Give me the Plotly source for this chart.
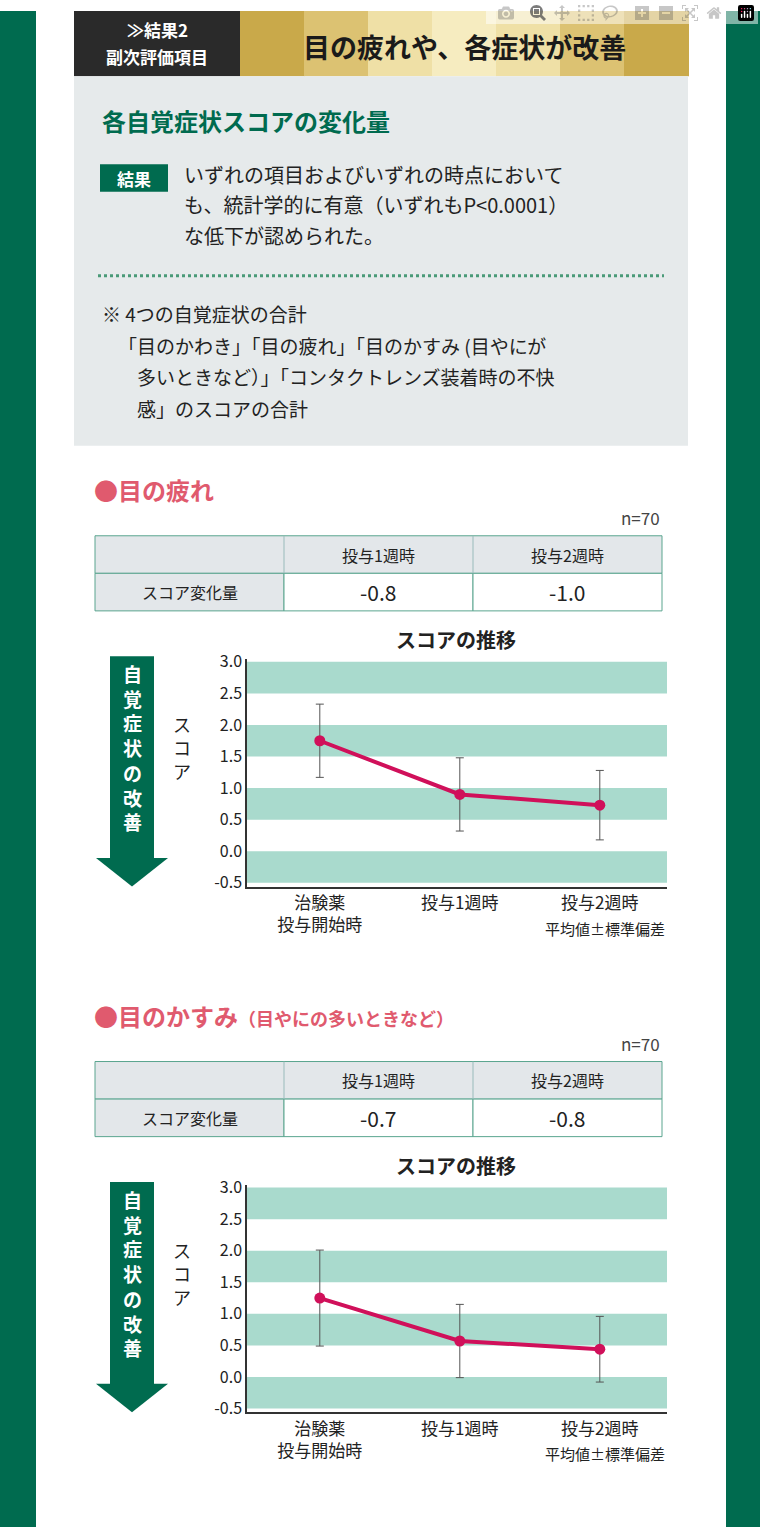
import plotly.graph_objects as go

W, H = 760, 1534
FONT = "Noto Sans CJK JP"
GREEN = "#006b4f"
PINK = "#d0105a"
BAND = "#a9dacd"

x_labels = ["治験薬<br>投与開始時", "投与1週時", "投与2週時"]
tired_mean = [1.75, 0.90, 0.73]
tired_sd = [0.58, 0.58, 0.55]
blur_mean = [1.25, 0.57, 0.44]
blur_sd = [0.76, 0.58, 0.52]
table_head = ["投与1週時", "投与2週時"]
tired_change = ["-0.8", "-1.0"]
blur_change = ["-0.7", "-0.8"]
y_ticks = [3.0, 2.5, 2.0, 1.5, 1.0, 0.5, 0.0, -0.5]

def px(x): return x / W
def py(y): return 1 - y / H

fig = go.Figure()
shapes, ann = [], []

def rect(x0, y0, x1, y1, color, line=None, lw=0):
    shapes.append(dict(type="rect", xref="paper", yref="paper", x0=px(x0), x1=px(x1),
                       y0=py(y1), y1=py(y0), fillcolor=color,
                       line=dict(color=line or color, width=lw), layer="below"))

def text(x, y, s, size, color="#222", xa="center", bold=False, ya="middle"):
    ann.append(dict(xref="paper", yref="paper", x=px(x), y=py(y), text=("<b>%s</b>" % s) if bold else s,
                    showarrow=False, xanchor=xa, yanchor=ya, font=dict(size=size, color=color, family=FONT)))

rect(0, 0, 36, H, GREEN)
rect(726, 0, W, H, GREEN)
rect(74, 0, 240, 66, "#2a2a2a")
golds = ["#c9a94a", "#dcc272", "#efe0a6", "#f6ecc0", "#efe0a6", "#dcc272", "#c9a94a"]
seg = (688 - 240) / len(golds)
for i, c in enumerate(golds):
    rect(240 + i * seg, 0, 240 + (i + 1) * seg + 1, 66, c)
text(157, 19, "≫結果2", 17, "white", bold=True)
text(157, 46, "副次評価項目", 17, "white", bold=True)
text(464, 36, "目の疲れや、各症状が改善", 27, "#1a1a1a", bold=True)
rect(74, 66, 688, 440, "#e6eaeb")
text(100, 111, "各自覚症状スコアの変化量", 24, GREEN, xa="left", bold=True)
rect(100, 155, 168, 183, GREEN)
text(134, 169, "結果", 17, "white", bold=True)
for i, s in enumerate(["いずれの項目およびいずれの時点において",
                       "も、統計学的に有意（いずれもP<0.0001）",
                       "な低下が認められた。"]):
    text(182, 165 + i * 31, s, 20, "#222", xa="left")
shapes.append(dict(type="line", xref="paper", yref="paper", x0=px(98), x1=px(664), y0=py(268), y1=py(268),
                   line=dict(color="#4a9a78", width=3, dash="dot")))
for i, s in enumerate(["※ 4つの自覚症状の合計",
                       "「目のかわき」「目の疲れ」「目のかすみ (目やにが",
                       "　多いときなど）」「コンタクトレンズ装着時の不快",
                       "　感」のスコアの合計"]):
    text(100 if i == 0 else 116, 306 + i * 32, s, 19, "#222", xa="left")

def section(top, title, sub, change, mean, sd, ax):
    text(92, top, "<span style='color:#e05a6e'>●</span><b>" + title + "</b>" +
         ("<span style='font-size:18px'><b>" + sub + "</b></span>" if sub else ""), 24, "#e05a6e", xa="left")
    text(662, top + 29, "n=70", 17, "#444", xa="right")
    t = top + 47
    rect(95, t, 662, t + 38, "#e3e7ea", "#5aa58f", 1)
    rect(95, t + 38, 284, t + 76, "#e3e7ea", "#5aa58f", 1)
    rect(284, t + 38, 473, t + 76, "white", "#5aa58f", 1)
    rect(473, t + 38, 662, t + 76, "white", "#5aa58f", 1)
    for x in (284, 473):
        shapes.append(dict(type="line", xref="paper", yref="paper", x0=px(x), x1=px(x), y0=py(t), y1=py(t + 38),
                           line=dict(color="#9bb", width=1)))
    text(378, t + 19, table_head[0], 16)
    text(567, t + 19, table_head[1], 16)
    text(190, t + 57, "スコア変化量", 16)
    text(378, t + 57, change[0], 21)
    text(567, t + 57, change[1], 21)
    text(456, top + 152, "スコアの推移", 20, "#222", bold=True)
    a0 = top + 169
    rect(110, a0, 154, a0 + 205, GREEN)
    shapes.append(dict(type="path", xref="paper", yref="paper",
                       path="M %f %f L %f %f L %f %f Z" % (px(96), py(a0 + 204), px(168), py(a0 + 204), px(132), py(a0 + 233)),
                       fillcolor=GREEN, line=dict(width=0)))
    text(132, a0 + 92, "<br>".join("自覚症状の改善"), 19, "white", bold=True)
    text(182, a0 + 92, "<br>".join("スコア"), 18, "#222")
    text(667, a0 + 275, "平均値±標準偏差", 15, "#222", xa="right")
    yi = "y" if ax == 1 else "y2"
    for lo in (2.5, 1.5, 0.5, -0.5):
        shapes.append(dict(type="rect", xref="paper", yref=yi, x0=px(247), x1=px(667), y0=lo, y1=lo + 0.5,
                           fillcolor=BAND, line=dict(width=0), layer="below"))
    fig.add_trace(go.Scatter(x=[0, 1, 2], y=mean, mode="lines+markers", xaxis="x" if ax == 1 else "x2", yaxis=yi,
                             line=dict(color=PINK, width=4), marker=dict(color=PINK, size=11),
                             error_y=dict(type="data", array=sd, color="#555", thickness=1, width=4), showlegend=False))

section(484, "目の疲れ", "", tired_change, tired_mean, tired_sd, 1)
section(1016, "目のかすみ", "（目やにの多いときなど）", blur_change, blur_mean, blur_sd, 2)

def yax(top_px, bot_px, anchor):
    return dict(domain=[py(bot_px), py(top_px)], range=[-0.56, 3.04], tickvals=y_ticks,
                ticktext=["%.1f" % v for v in y_ticks], showgrid=False, zeroline=False,
                showline=True, linecolor="#333", linewidth=1.5, ticks="", anchor=anchor,
                tickfont=dict(size=16, family=FONT, color="#222"))

def xax(anchor):
    return dict(domain=[px(247), px(667)], range=[-0.52, 2.48], tickvals=[0, 1, 2], ticktext=x_labels,
                showgrid=False, zeroline=False, showline=True, linecolor="#333", linewidth=1.5,
                anchor=anchor, tickfont=dict(size=17, family=FONT, color="#222"))

fig.update_layout(width=W, height=H, margin=dict(l=0, r=0, t=0, b=0), paper_bgcolor="white",
                  plot_bgcolor="rgba(0,0,0,0)", shapes=shapes, annotations=ann,
                  xaxis=xax("y"), yaxis=yax(656, 886, "x"),
                  xaxis2=xax("y2"), yaxis2=yax(1188, 1418, "x2"))
fig.write_html("out.html",
               post_script="document.body.style.margin='0';document.body.style.padding='0';"
                           "document.documentElement.style.margin='0';")
